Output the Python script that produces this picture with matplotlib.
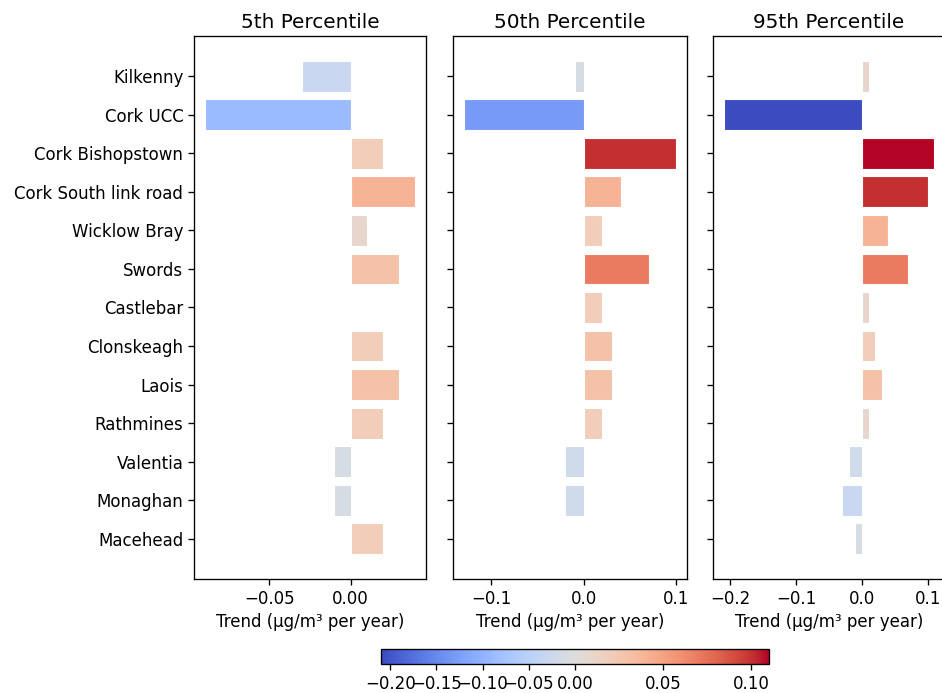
import matplotlib
matplotlib.use('Agg')
import matplotlib.pyplot as plt
import matplotlib.colors as mcolors
import numpy as np

stations = ['Kilkenny', 'Cork UCC', 'Cork Bishopstown', 'Cork South link road',
            'Wicklow Bray', 'Swords', 'Castlebar', 'Clonskeagh', 'Laois',
            'Rathmines', 'Valentia', 'Monaghan', 'Macehead']
p5 = [-0.03, -0.09, 0.02, 0.04, 0.01, 0.03, 0.0, 0.02, 0.03, 0.02, -0.01, -0.01, 0.02]
p50 = [-0.01, -0.13, 0.10, 0.04, 0.02, 0.07, 0.02, 0.03, 0.03, 0.02, -0.02, -0.02, 0.0]
p95 = [0.01, -0.21, 0.11, 0.10, 0.04, 0.07, 0.01, 0.02, 0.03, 0.01, -0.02, -0.03, -0.01]
titles = ['5th Percentile', '50th Percentile', '95th Percentile']

# original was drawn at a larger scale, so bump text/lines ~1.2x
scale = 1.2
plt.rcParams['font.size'] = 10 * scale
plt.rcParams['axes.linewidth'] = 0.8 * scale
plt.rcParams['xtick.major.width'] = 0.8 * scale
plt.rcParams['ytick.major.width'] = 0.8 * scale
plt.rcParams['xtick.major.size'] = 3.5 * scale
plt.rcParams['ytick.major.size'] = 3.5 * scale

allvals = np.array(p5 + p50 + p95)
norm = mcolors.TwoSlopeNorm(vmin=allvals.min(), vcenter=0, vmax=allvals.max())
cmap = plt.get_cmap('coolwarm')

fig = plt.figure(figsize=(9.42, 6.93), dpi=100)
W, H = 942, 693
# axes boxes in pixels (left, right)
boxes = [(194, 426), (453, 687), (713, 945)]
top, bottom = 36, 579

ypos = np.arange(len(stations))
axes = []
for i, (vals, title) in enumerate(zip([p5, p50, p95], titles)):
    l, r = boxes[i]
    ax = fig.add_axes([l / W, (H - bottom) / H, (r - l) / W, (bottom - top) / H],
                      sharey=axes[0] if axes else None)
    ax.barh(ypos, vals, height=0.8, color=cmap(norm(np.array(vals))),
            edgecolor='white', linewidth=0.8)
    ax.set_title(title, fontsize=12 * scale)
    ax.set_xlabel('Trend (µg/m³ per year)')
    ax.set_yticks(ypos)
    if i == 0:
        ax.set_yticklabels(stations)
        ax.invert_yaxis()
    else:
        ax.tick_params(labelleft=False)
    axes.append(ax)

cax = fig.add_axes([381 / W, (H - 664) / H, 388 / W, 15 / H])
sm = plt.cm.ScalarMappable(norm=norm, cmap=cmap)
sm.set_array([])
fig.colorbar(sm, cax=cax, orientation='horizontal')

fig.savefig('out.png', dpi=100)
